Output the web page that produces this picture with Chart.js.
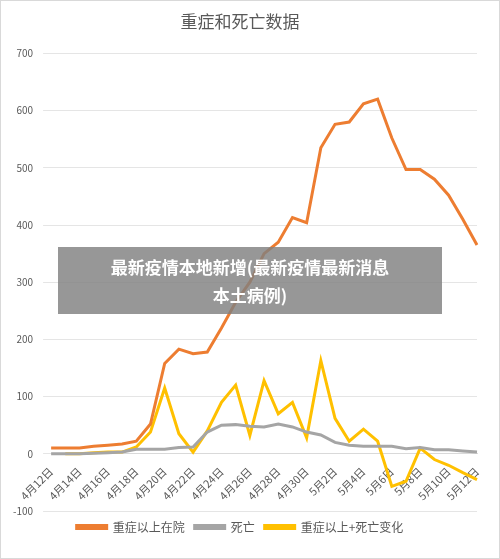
<!DOCTYPE html>
<html>
<head>
<meta charset="utf-8">
<script src="https://cdn.jsdelivr.net/npm/chart.js@4/dist/chart.umd.min.js"></script>
<style>
  body { margin: 0; background: #fff; }
  .wrap { position: relative; width: 498px; height: 557px; border: 1px solid #d9d9d9; }
  .banner {
    position: absolute; left: 57px; top: 246px; width: 384px; height: 67px;
    background: rgba(128,128,128,0.82); color: #fff; text-align: center;
    font: bold 17px "Noto Sans CJK SC", sans-serif; line-height: 28px; padding-top: 6px; box-sizing: border-box;
  }
</style>
</head>
<body>
<div class="wrap">
  <canvas id="c" width="498" height="557"></canvas>
  <div class="banner">最新疫情本地新增(最新疫情最新消息<br>本土病例)</div>
</div>
<script>
const days = [];
for (let d = 12; d <= 30; d++) days.push('4月' + d + '日');
for (let d = 1; d <= 12; d++) days.push('5月' + d + '日');

const severe = [10,10,10,13,15,17,22,52,158,183,175,178,220,265,300,350,370,413,404,535,576,580,612,620,552,497,497,480,452,410,365];
const deaths = [0,0,0,1,2,3,8,8,8,11,12,38,50,51,48,47,52,47,38,33,20,15,13,13,13,9,11,7,7,5,3];
const change = [null,0,0,2,3,3,12,38,115,35,3,40,90,120,32,128,70,90,28,163,62,22,43,22,-57,-48,10,-10,-20,-33,-45];

const yTicks = [-100, 0, 100, 200, 300, 400, 500, 600, 700];
const font = { family: '"Noto Sans CJK SC", sans-serif' };

new Chart(document.getElementById('c'), {
  type: 'line',
  data: {
    labels: days,
    datasets: [
      { label: '重症以上在院', data: severe, borderColor: '#ed7d31', borderWidth: 3, pointRadius: 0, tension: 0 },
      { label: '死亡', data: deaths, borderColor: '#a5a5a5', borderWidth: 3, pointRadius: 0, tension: 0 },
      { label: '重症以上+死亡变化', data: change, borderColor: '#ffc000', borderWidth: 3, pointRadius: 0, tension: 0 }
    ]
  },
  options: {
    responsive: false,
    animation: false,
    layout: { padding: { left: 2, right: 22, top: 4, bottom: 15 } },
    plugins: {
      title: { display: true, text: '重症和死亡数据', color: '#595959', font: { ...font, size: 17, weight: 'normal' }, padding: { top: 6, bottom: 22 } },
      legend: { position: 'bottom', labels: { boxWidth: 30, boxHeight: 3, color: '#595959', font: { ...font, size: 12 } } }
    },
    scales: {
      x: {
        position: { y: 0 },
        grid: { display: false },
        border: { color: '#d9d9d9' },
        ticks: {
          autoSkip: false, maxRotation: 45, minRotation: 45, color: '#595959', font: { ...font, size: 11 },
          callback: (v, i) => i % 2 === 0 ? days[i] : ''
        }
      },
      y: {
        min: -100, max: 700,
        afterBuildTicks: a => { a.ticks = yTicks.map(v => ({ value: v })); },
        grid: { color: '#e5e5e5' },
        border: { display: false },
        ticks: { color: '#595959', font: { ...font, size: 10 }, padding: 10 }
      }
    }
  }
});
</script>
</body>
</html>
